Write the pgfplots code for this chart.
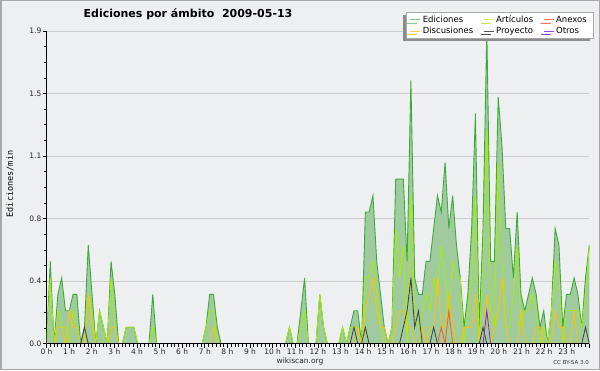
\documentclass[border=0pt]{standalone}
\usepackage{pgfplots}
\pgfplotsset{compat=1.18}
\usepackage{pgfplotstable}
\usepackage{fontspec}
\setmainfont{DejaVu Sans}
\newfontfamily\monofont{DejaVu Sans Mono}
\usetikzlibrary{shadows}
\definecolor{cbg}{HTML}{EEEFF1}
\definecolor{cframe}{HTML}{A8A8A8}
\definecolor{cgrid}{HTML}{CCCCCC}
\definecolor{cfill}{HTML}{9FCB9F}
\definecolor{ctot}{HTML}{3DAA3D}
\definecolor{cart}{HTML}{AAEE00}
\definecolor{cdis}{HTML}{FFC400}
\definecolor{cproj}{HTML}{404040}
\definecolor{canex}{HTML}{FF5A14}
\definecolor{cotr}{HTML}{7A22EE}
\definecolor{ltot}{HTML}{88CC88}
\definecolor{lart}{HTML}{CCEE44}
\definecolor{ldis}{HTML}{FFCC44}
\definecolor{lproj}{HTML}{555555}
\definecolor{lanex}{HTML}{FF7744}
\definecolor{lotr}{HTML}{9944EE}
\pgfplotstableread{
i tot art dis proj anex otr
0 0 0 0 0 0 0
1 0.5 0.4 0 0 0 0
2 0 0 0 0 0 0
3 0.3 0.2 0.1 0 0 0
4 0.4 0.1 0.1 0 0 0
5 0.2 0.1 0 0 0 0
6 0.2 0 0.2 0 0 0
7 0.3 0.2 0.1 0 0 0
8 0.3 0.1 0.1 0 0 0
9 0 0 0 0 0 0
10 0.1 0 0 0.1 0 0
11 0.6 0.3 0.3 0 0 0
12 0.3 0.2 0.1 0 0 0
13 0 0 0 0 0 0
14 0.2 0.2 0 0 0 0
15 0.1 0.1 0 0 0 0
16 0 0 0 0 0 0
17 0.5 0.4 0.1 0 0 0
18 0.3 0.1 0.1 0 0 0
19 0 0 0 0 0 0
20 0 0 0 0 0 0
21 0.1 0.1 0 0 0 0
22 0.1 0.1 0 0 0 0
23 0.1 0.1 0 0 0 0
24 0 0 0 0 0 0
25 0 0 0 0 0 0
26 0 0 0 0 0 0
27 0 0 0 0 0 0
28 0.3 0.1 0 0 0 0
29 0 0 0 0 0 0
30 0 0 0 0 0 0
31 0 0 0 0 0 0
32 0 0 0 0 0 0
33 0 0 0 0 0 0
34 0 0 0 0 0 0
35 0 0 0 0 0 0
36 0 0 0 0 0 0
37 0 0 0 0 0 0
38 0 0 0 0 0 0
39 0 0 0 0 0 0
40 0 0 0 0 0 0
41 0 0 0 0 0 0
42 0.1 0.1 0 0 0 0
43 0.3 0.2 0 0 0 0
44 0.3 0.2 0.1 0 0 0
45 0.1 0 0 0 0 0
46 0 0 0 0 0 0
47 0 0 0 0 0 0
48 0 0 0 0 0 0
49 0 0 0 0 0 0
50 0 0 0 0 0 0
51 0 0 0 0 0 0
52 0 0 0 0 0 0
53 0 0 0 0 0 0
54 0 0 0 0 0 0
55 0 0 0 0 0 0
56 0 0 0 0 0 0
57 0 0 0 0 0 0
58 0 0 0 0 0 0
59 0 0 0 0 0 0
60 0 0 0 0 0 0
61 0 0 0 0 0 0
62 0 0 0 0 0 0
63 0 0 0 0 0 0
64 0.1 0.1 0 0 0 0
65 0 0 0 0 0 0
66 0 0 0 0 0 0
67 0.2 0.1 0 0 0 0
68 0.4 0.2 0 0 0 0
69 0 0 0 0 0 0
70 0 0 0 0 0 0
71 0 0 0 0 0 0
72 0.3 0.3 0 0 0 0
73 0.1 0.1 0 0 0 0
74 0 0 0 0 0 0
75 0 0 0 0 0 0
76 0 0 0 0 0 0
77 0 0 0 0 0 0
78 0.1 0.1 0 0 0 0
79 0 0 0 0 0 0
80 0.1 0.1 0 0 0 0
81 0.2 0.1 0 0.1 0 0
82 0.2 0.1 0.1 0 0 0
83 0 0 0 0 0 0
84 0.8 0.4 0.2 0.1 0 0
85 0.8 0.4 0.3 0 0 0
86 0.9 0.5 0.4 0 0 0
87 0.5 0.3 0.2 0 0 0
88 0.3 0.1 0.1 0 0 0
89 0.1 0 0.1 0 0 0
90 0 0 0 0 0 0
91 0.1 0.1 0 0 0 0
92 1.0 0.7 0.1 0 0 0
93 1.0 0.4 0.2 0 0 0
94 1.0 0.6 0.2 0.1 0 0
95 0.5 0 0.1 0.2 0 0
96 1.6 0.9 0.1 0.4 0 0
97 0.4 0.2 0 0.1 0 0
98 0.3 0.1 0 0.2 0 0
99 0.3 0.2 0.1 0 0 0
100 0.5 0.3 0 0 0 0
101 0.5 0.2 0.1 0 0 0
102 0.7 0.4 0.1 0.1 0 0
103 0.9 0.3 0.4 0 0 0
104 0.8 0.6 0.1 0 0.1 0
105 1.1 0.4 0.1 0 0 0
106 0.7 0.2 0.3 0 0.2 0
107 0.9 0.5 0.1 0 0 0
108 0.6 0.4 0 0 0 0
109 0.4 0.4 0 0 0 0
110 0.1 0 0.1 0 0 0
111 0.3 0.2 0.1 0 0 0
112 0.7 0.4 0.1 0 0 0
113 1.4 0.9 0.3 0 0 0
114 0.1 0 0 0 0 0
115 0.7 0.5 0 0.1 0 0
116 1.9 1.3 0.3 0 0 0.2
117 0.5 0.2 0 0 0 0
118 0.5 0.1 0.1 0 0 0
119 1.5 1.1 0.2 0 0 0
120 1.2 0.5 0.4 0 0 0
121 0.7 0.1 0.1 0 0 0
122 0.7 0.1 0 0 0 0
123 0.4 0.3 0 0 0 0
124 0.8 0.6 0 0 0 0
125 0.3 0.1 0.2 0 0 0
126 0.2 0.2 0 0 0 0
127 0.3 0.2 0 0 0 0
128 0.4 0.3 0 0 0 0
129 0.3 0.2 0.1 0 0 0
130 0.1 0 0.1 0 0 0
131 0.2 0.1 0 0 0 0
132 0 0 0 0 0 0
133 0.2 0.2 0 0 0 0
134 0.7 0.5 0.2 0 0 0
135 0.6 0.4 0.1 0 0 0
136 0.1 0 0.1 0 0 0
137 0.3 0.2 0 0 0 0
138 0.3 0.2 0 0 0 0
139 0.4 0.2 0.2 0 0 0
140 0.3 0.2 0 0 0 0
141 0.1 0.1 0 0 0 0
142 0.4 0.3 0 0.1 0 0
143 0.6 0.6 0 0 0 0
}\data
\begin{document}
\begin{tikzpicture}[x=1pt,y=1pt]
\path[use as bounding box] (0,0) rectangle (600,370);
\fill[cbg] (0,0) rectangle (600,370);
\draw[cframe, line width=1.5pt] (0.75,0.75) rectangle (599.25,369.25);
\begin{axis}[
  at={(46.5pt,26.3pt)}, anchor=south west,
  scale only axis, width=542.8pt, height=312.7pt,
  xmin=0, xmax=143, ymin=0, ymax=1.9,
  axis x line*=bottom, axis y line*=left,
  axis line style={black, line width=1pt},
  xtick={0,5.958333,11.916667,17.875,23.833333,29.791667,35.75,41.708333,47.666667,53.625,59.583333,65.541667,71.5,77.458333,83.416667,89.375,95.333333,101.291667,107.25,113.208333,119.166667,125.125,131.083333,137.041667,143},
  xticklabels={0 h,1 h,2 h,3 h,4 h,5 h,6 h,7 h,8 h,9 h,10 h,11 h,12 h,13 h,14 h,15 h,16 h,17 h,18 h,19 h,20 h,21 h,22 h,23 h,},
  minor x tick num=5,
  ytick={0,0.38,0.76,1.14,1.52,1.9},
  yticklabels={0.0,0.4,0.8,1.1,1.5,1.9},
  minor y tick num=3,
  tick align=outside,
  major tick length=4pt, minor tick length=3pt,
  tick style={black, line width=0.7pt},
  ymajorgrids, major grid style={cgrid, line width=0.9pt},
  xticklabel style={font=\fontsize{7.5}{8}\selectfont, text=black!85, inner sep=1pt},
  yticklabel style={font=\fontsize{7.5}{8}\selectfont, text=black!85, inner sep=1pt},
  legend columns=3,
  legend cell align=left,
  legend image code/.code={\draw[#1, line width=0.9pt] (0pt,0pt) -- (10pt,0pt);},
  legend style={at={(axis description cs:1.0068,1.0608)}, anchor=north east,
    draw=cframe, fill=white, font=\fontsize{8.5}{9}\selectfont,
    inner xsep=4pt, inner ysep=1.5pt, row sep=-1pt,
    /tikz/every even column/.append style={column sep=8pt},
    drop shadow={shadow xshift=-3pt, shadow yshift=-3pt, fill=black!45, opacity=1}},
]
\addplot[draw=none, fill=cfill, forget plot] table[x=i,y=tot]{\data} \closedcycle;
\addplot[color=ctot, line width=0.9pt, forget plot] table[x=i,y=tot]{\data};
\addplot[color=cart, line width=0.8pt, forget plot] table[x=i,y=art]{\data};
\addplot[color=cdis, line width=0.8pt, forget plot] table[x=i,y=dis]{\data};
\addplot[color=cproj, line width=0.8pt, forget plot] table[x=i,y=proj]{\data};
\addplot[color=canex, line width=0.8pt, forget plot] table[x=i,y=anex]{\data};
\addplot[color=cotr, line width=0.8pt, forget plot] table[x=i,y=otr]{\data};
\addlegendimage{color=ltot}\addlegendentry{Ediciones}
\addlegendimage{color=lart}\addlegendentry{Artículos}
\addlegendimage{color=lanex}\addlegendentry{Anexos}
\addlegendimage{color=ldis}\addlegendentry{Discusiones}
\addlegendimage{color=lproj}\addlegendentry{Proyecto}
\addlegendimage{color=lotr}\addlegendentry{Otros}
\draw[black, line width=1pt] (rel axis cs:0,0) -- (rel axis cs:1,0);
\draw[black, line width=1pt] (rel axis cs:0,0) -- (rel axis cs:0,1);
\end{axis}
\node[font=\bfseries\fontsize{11}{13}\selectfont] at (188,356) {Ediciones por ámbito\ \ 2009-05-13};
\node[rotate=90, font=\monofont\fontsize{8.5}{10}\selectfont] at (10,186) {Ediciones/min};
\node[font=\fontsize{7.5}{9}\selectfont, text=black!85] at (300,9) {wikiscan.org};
\node[anchor=east, font=\fontsize{5.5}{7}\selectfont, text=black!80, inner sep=0pt] at (589,8) {CC BY-SA 3.0};
\end{tikzpicture}
\end{document}
